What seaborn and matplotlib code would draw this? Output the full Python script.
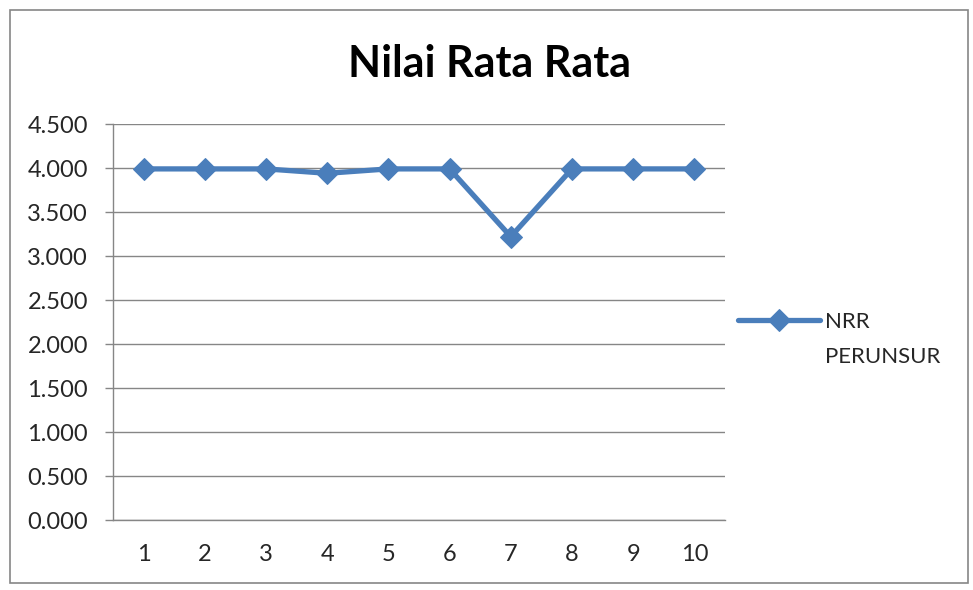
import pandas as pd
import matplotlib
matplotlib.use('Agg')
import matplotlib.pyplot as plt
from matplotlib.patches import Rectangle
import seaborn as sns

# data
unsur = [1, 2, 3, 4, 5, 6, 7, 8, 9, 10]
nrr = [3.99, 3.99, 3.99, 3.94, 3.99, 3.99, 3.22, 3.99, 3.99, 3.99]
y_ticks = [0.0, 0.5, 1.0, 1.5, 2.0, 2.5, 3.0, 3.5, 4.0, 4.5]

df = pd.DataFrame({'unsur': unsur, 'NRR PERUNSUR': nrr})

sns.set_style('white')
plt.rcParams['font.family'] = ['Lato', 'DejaVu Sans']

fig = plt.figure(figsize=(9.73, 5.90), dpi=100)
ax = fig.add_axes([0.1161, 0.1186, 0.629, 0.6712])

blue = '#4A7EBB'
sns.lineplot(data=df, x='unsur', y='NRR PERUNSUR', ax=ax, color=blue,
             linewidth=3.8, marker='D', markersize=11, markeredgecolor=blue,
             label='NRR')

ax.set_xlim(0.5, 10.5)
ax.set_ylim(0, 4.5)
ax.set_yticks(y_ticks)
ax.set_yticklabels([f'{v:.3f}' for v in y_ticks], fontsize=17)
ax.set_xticks(unsur)
ax.set_xticklabels([str(u) for u in unsur], fontsize=17)
ax.set_xticks([u - 0.5 for u in unsur] + [10.5], minor=True)
ax.tick_params(axis='x', which='major', length=0, pad=17)
ax.tick_params(axis='x', which='minor', length=6, width=1, color='#868686', direction='out')
ax.tick_params(axis='y', length=6, width=1, color='#868686', direction='out', pad=12, left=True)
ax.set_xlabel('')
ax.set_ylabel('')
ax.grid(axis='y', color='#868686', linewidth=1)
ax.set_axisbelow(True)

for side in ['top', 'right']:
    ax.spines[side].set_visible(False)
for side in ['left', 'bottom']:
    ax.spines[side].set_color('#868686')
    ax.spines[side].set_linewidth(1)

fig.text(0.503, 0.891, 'Nilai Rata Rata', ha='center', va='center',
         fontsize=31, fontweight='bold', color='black')

# legend: first line next to the handle, second line under it
leg = ax.legend(loc='center left', bbox_to_anchor=(738 / 973, 1 - 322 / 590),
                bbox_transform=fig.transFigure, frameon=False, fontsize=16,
                handlelength=3.7, handletextpad=0.2, borderpad=0,
                borderaxespad=0)
fig.text(825 / 973, 1 - 357 / 590, 'PERUNSUR', ha='left', va='center', fontsize=16)

fig.patches.append(Rectangle((10 / 973, 1 - 583 / 590), 958 / 973, 573 / 590,
                             transform=fig.transFigure, fill=False,
                             edgecolor='#868686', linewidth=1.2))

fig.savefig('out.png', dpi=100)
